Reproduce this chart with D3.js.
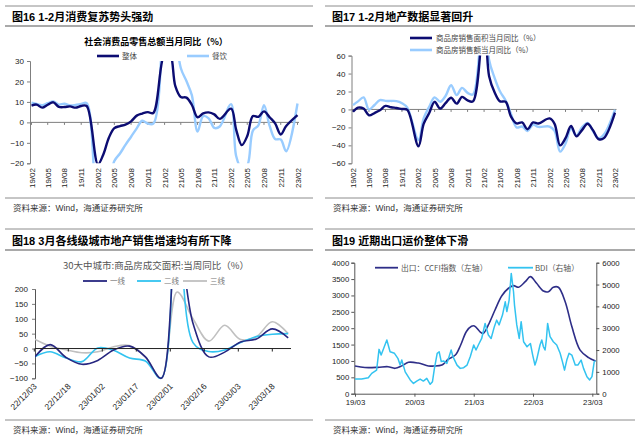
<!DOCTYPE html>
<html><head><meta charset="utf-8">
<script src="https://cdn.jsdelivr.net/npm/d3@7"></script>
<style>body{margin:0;background:#fff;}svg{display:block;}</style>
</head><body>
<svg id="c" width="640" height="438"></svg>
<script>
// ---------- DATA ----------
// Panel 1 & 2: monthly categories (Jan merged into Jan-Feb)
const months = ["19/02","19/03","19/04","19/05","19/06","19/07","19/08","19/09","19/10","19/11","19/12",
"20/02","20/03","20/04","20/05","20/06","20/07","20/08","20/09","20/10","20/11","20/12",
"21/02","21/03","21/04","21/05","21/06","21/07","21/08","21/09","21/10","21/11","21/12",
"22/02","22/03","22/04","22/05","22/06","22/07","22/08","22/09","22/10","22/11","22/12",
"23/02"];
const monthTicks = ["19/02","19/05","19/08","19/11","20/02","20/05","20/08","20/11","21/02","21/05","21/08","21/11","22/02","22/05","22/08","22/11","23/02"];
const retailTotal = [8.2,8.7,7.2,8.6,9.8,7.6,7.5,7.8,7.2,8.0,8.0,
-20.5,-15.8,-7.5,-2.8,-1.8,-1.1,0.5,3.3,4.3,5.0,4.6,
33.8,34.2,17.7,12.4,12.1,8.5,2.5,4.4,4.9,3.9,1.7,
6.7,-3.5,-11.1,-6.7,3.1,2.7,5.4,2.5,-0.5,-5.9,-1.8,
3.5];
const retailFood = [9.7,9.0,8.4,9.4,10.2,8.7,9.1,8.3,8.5,9.0,9.4,
-43.1,-46.8,-31.1,-18.9,-15.2,-11.0,-7.0,-2.9,0.8,-0.6,-0.6,
68.9,91.6,46.4,26.6,20.2,13.2,-4.5,3.1,2.0,-2.7,-2.0,
8.9,-16.4,-22.7,-21.1,-4.0,-1.5,8.4,-1.7,-8.1,-8.4,-14.1,
9.2];
const p1YTicks = [-20,-10,0,10,20,30];
const houseArea = [-2.6,2.0,1.0,-6.5,-4.0,-1.0,3.9,2.5,1.6,0.5,-0.5,
-41,-16,-4,8.5,1,7,13,6.5,14,10,9,
105,37,19,9,8.5,-8,-15.6,-14.5,-22,-14.5,-15.6,
-10,-16,-40,-32,-18.5,-30,-23,-16,-23,-33,-32,
-3.6];
const houseAmount = [4.8,9,13.4,0,5,10.4,9.5,9.5,9.3,7,2,
-34,-10,3,13.4,8.5,15,27,16,24,18.5,16.7,
133,55,35,20,10,-5,-20,-19,-24,-17,-19.4,
-19,-24,-47,-38,-21,-29,-20,-15,-24,-32,-28,
-0.1];
const p2YTicks = [-60,-40,-20,0,20,40,60];

// Panel 3: weekly
const weeks = ["22/12/03","22/12/10","22/12/17","22/12/24","22/12/31","23/01/07","23/01/14","23/01/21","23/01/28","23/02/04","23/02/11","23/02/18","23/02/25","23/03/04","23/03/11","23/03/18","23/03/25"];
const weekTicks = ["22/12/03","22/12/18","23/01/02","23/01/17","23/02/01","23/02/16","23/03/03","23/03/18"];
const tier1 = [-30,13,-30,-53,-40,-5,8,-28,-100,400,85,-28,-12,22,32,66,36];
const tier2 = [-28,-11,-32,-44,2,-6,-32,-42,-100,800,20,-10,-5,20,40,48,50];
const tier3 = [32,8,-4,-14,-11,6,10,-28,-100,190,100,25,78,30,40,90,50];
const p3YTicks = [-100,-50,0,50,100,150,200];

// Panel 4
const ccfiDates = ["2019-03-01","2019-05-01","2019-07-20","2019-09-20","2019-11-03","2019-12-14","2020-01-24","2020-03-25","2020-05-26","2020-06-26","2020-08-17","2020-09-27","2020-11-08","2020-12-10","2021-01-15","2021-02-15","2021-03-05","2021-04-09","2021-04-29","2021-05-30","2021-07-10","2021-08-21","2021-10-01","2021-11-01","2021-12-02","2022-01-12","2022-02-13","2022-03-23","2022-05-04","2022-06-04","2022-07-04","2022-08-04","2022-09-15","2022-10-26","2022-12-16","2023-02-06","2023-03-21"];
const ccfiValues = [845,800,805,825,775,850,960,935,845,845,875,1060,1180,1480,1900,2060,2070,1890,1840,2100,2555,2990,3220,3300,3250,3420,3575,3370,3135,3115,3250,3250,2810,2050,1330,1100,1000];
const bdiDates = ["2019-03-01","2019-04-11","2019-05-22","2019-06-12","2019-07-12","2019-07-27","2019-08-09","2019-09-13","2019-10-03","2019-10-30","2019-11-20","2019-12-04","2019-12-14","2020-01-04","2020-02-04","2020-02-24","2020-03-15","2020-04-05","2020-04-25","2020-05-16","2020-06-06","2020-06-20","2020-07-02","2020-07-19","2020-07-31","2020-08-13","2020-08-27","2020-09-17","2020-10-13","2020-10-24","2020-11-18","2020-12-08","2020-12-29","2021-01-19","2021-02-08","2021-03-01","2021-03-15","2021-04-03","2021-04-19","2021-05-10","2021-05-30","2021-06-16","2021-07-06","2021-07-20","2021-08-04","2021-08-25","2021-09-11","2021-09-21","2021-10-05","2021-10-18","2021-11-01","2021-11-07","2021-11-21","2021-12-06","2021-12-18","2022-01-02","2022-01-23","2022-02-13","2022-02-27","2022-03-13","2022-03-23","2022-04-13","2022-04-24","2022-05-04","2022-05-14","2022-05-22","2022-05-30","2022-06-14","2022-07-04","2022-07-25","2022-08-15","2022-08-29","2022-09-11","2022-09-25","2022-10-09","2022-10-26","2022-11-16","2022-12-02","2022-12-22","2023-01-06","2023-01-27","2023-02-13","2023-02-27","2023-03-13","2023-03-21"];
const bdiValues = [670,670,730,930,1080,2030,1770,2460,1920,1850,1620,1310,1540,1000,630,470,580,670,580,700,430,550,1160,1850,1920,1470,1500,1390,2000,1700,1310,1160,1190,1310,1700,2230,2000,2300,2530,3220,2690,2530,3070,3370,3150,3600,4210,3760,4290,5510,4670,4060,3150,2530,3300,2380,2150,2300,1770,1310,1540,2230,2460,2150,2000,2460,3220,2610,2380,2230,1850,1470,1080,1540,1850,1770,1310,1310,1540,1160,780,630,780,1470,1500];
const yearTicks = ["2019-03-01","2020-03-01","2021-03-01","2022-03-01","2023-03-01"];
const leftTicks4 = [0,500,1000,1500,2000,2500,3000,3500,4000];
const rightTicks4 = [0,1000,2000,3000,4000,5000,6000];

// ---------- DRAW ----------
const svg = d3.select("#c");
const LAT = "'Liberation Sans', Arial, 'Noto Sans CJK SC', sans-serif";
const CJK = "'Noto Sans CJK SC', 'Liberation Sans', sans-serif";
const FRAME = "#8c8c8c", AX = "#7f7f7f";
const NAVY = "#0c0c72", LIGHT = "#99ccff";
const parseM = d3.timeParse("%y/%m"), parseD = d3.timeParse("%y/%m/%d"), parseI = d3.timeParse("%Y-%m-%d");
const fmtY = d3.timeFormat("%y/%m");
const defs = svg.append("defs");

function hline(x1,x2,y,w){svg.append("line").attr("x1",x1).attr("x2",x2).attr("y1",y).attr("y2",y).attr("stroke",FRAME).attr("stroke-width",w);}
function txt(x,y,s,size,o={}){
  return svg.append("text").attr("x",x).attr("y",y).text(s).attr("font-size",size)
    .attr("font-family",o.f||LAT).attr("font-weight",o.w||"normal").attr("fill",o.c||"#000")
    .attr("text-anchor",o.a||"start");
}
function styleAxis(g,size){
  g.select(".domain").attr("stroke",AX);
  g.selectAll(".tick line").attr("stroke",AX);
  g.selectAll(".tick text").attr("font-size",size||8).attr("font-family",LAT).attr("fill","#222");
}
function clip(id,x,y,w,h){defs.append("clipPath").attr("id",id).append("rect").attr("x",x).attr("y",y).attr("width",w).attr("height",h);}

// frames
[[5,313],[325,635]].forEach(([a,b])=>{
  hline(a,b,6,1); hline(a,b,26,1.3); hline(a,b,198,1);
  hline(a,b,229,1); hline(a,b,250,1.3); hline(a,b,420,1);
});
txt(12,20.5,"图16 1-2月消费复苏势头强劲",11,{w:"bold"});
txt(332,20.5,"图17 1-2月地产数据显著回升",11,{w:"bold"});
txt(12,244.5,"图18 3月各线级城市地产销售增速均有所下降",11,{w:"bold"});
txt(332,244.5,"图19 近期出口运价整体下滑",11,{w:"bold"});
["13|211","333|211","13|432.5","333|432.5"].forEach(s=>{const [x,y]=s.split("|").map(Number);
  txt(x,y,"资料来源：Wind，海通证券研究所",8.5,{c:"#333"});});

// monthly panels
function monthly(o){
  const x = d3.scaleTime().domain([parseM("19/02"),parseM("23/02")]).range(o.xr);
  const y = d3.scaleLinear().domain(o.yd).range(o.yr);
  clip(o.id,o.ax,o.yr[1],o.xr[1]-o.ax+3,o.yr[0]-o.yr[1]);
  const g = svg.append("g");
  g.append("line").attr("x1",o.ax).attr("x2",o.xr[1]+1.5).attr("y1",y(0)).attr("y2",y(0)).attr("stroke",AX);
  g.selectAll(null).data(monthTicks).join("line")
    .attr("x1",d=>x(parseM(d))).attr("x2",d=>x(parseM(d))).attr("y1",y(0)).attr("y2",y(0)+2.5).attr("stroke",AX);
  const ya = g.append("g").attr("transform",`translate(${o.ax},0)`)
    .call(d3.axisLeft(y).tickValues(o.yt).tickSize(3).tickPadding(3).tickFormat(d3.format("d")));
  styleAxis(ya,8);
  g.selectAll(null).data(monthTicks).join("text")
    .attr("transform",d=>`translate(${x(parseM(d))+3},168) rotate(-90)`)
    .attr("text-anchor","end").attr("font-size",8).attr("font-family",LAT).attr("fill","#222").text(d=>d);
  o.series.forEach(s=>{
    g.append("path").datum(s.v).attr("clip-path",`url(#${o.id})`)
      .attr("d",d3.line().x((d,i)=>x(parseM(months[i]))).y(d=>y(d)).curve(d3.curveCatmullRom.alpha(0.5)))
      .attr("fill","none").attr("stroke",s.c).attr("stroke-width",2.4).attr("stroke-linejoin","round");
  });
}
monthly({id:"c1",xr:[31.5,297.5],ax:30,yd:[-20,30],yr:[163.3,61],yt:p1YTicks,
  series:[{v:retailFood,c:LIGHT},{v:retailTotal,c:NAVY}]});
monthly({id:"c2",xr:[353,615],ax:351.5,yd:[-60,60],yr:[163.3,55.6],yt:p2YTicks,
  series:[{v:houseAmount,c:LIGHT},{v:houseArea,c:NAVY}]});

// panel 1 titles/legend
txt(156,45,"社会消费品零售总额当月同比（%）",9,{f:CJK,w:"bold",a:"middle"});
svg.append("line").attr("x1",97).attr("x2",119).attr("y1",56).attr("y2",56).attr("stroke",NAVY).attr("stroke-width",2.6);
txt(122,59,"整体",7.5,{f:CJK,c:"#444"});
svg.append("line").attr("x1",187).attr("x2",209).attr("y1",56).attr("y2",56).attr("stroke",LIGHT).attr("stroke-width",2.6);
txt(212,59,"餐饮",7.5,{f:CJK,c:"#444"});
// panel 2 legend
svg.append("line").attr("x1",410).attr("x2",432).attr("y1",38).attr("y2",38).attr("stroke",NAVY).attr("stroke-width",2.6);
txt(436,41,"商品房销售面积当月同比（%）",7.5,{f:CJK,c:"#444"});
svg.append("line").attr("x1",410).attr("x2",432).attr("y1",50).attr("y2",50).attr("stroke",LIGHT).attr("stroke-width",2.6);
txt(436,53,"商品房销售额当月同比（%）",7.5,{f:CJK,c:"#444"});

// panel 3
{
  const x = d3.scaleTime().domain([parseD("22/12/03"),parseD("23/03/18")]).range([34.3,272.3]);
  const y = d3.scaleLinear().domain([-100,200]).range([378.3,289]);
  clip("c3",35,289,258,90.5);
  const g = svg.append("g");
  const ya = g.append("g").attr("transform","translate(35,0)")
    .call(d3.axisLeft(y).tickValues(p3YTicks).tickSize(3).tickPadding(4));
  styleAxis(ya,8);
  ya.select(".domain").attr("stroke","#555");
  const cols = [["#c0c0c0",tier3],["#33c3f0",tier2],["#262680",tier1]];
  cols.forEach(([c,v])=>{
    g.append("path").datum(v).attr("clip-path","url(#c3)")
      .attr("d",d3.line().x((d,i)=>x(parseD(weeks[i]))).y(d=>y(d)).curve(d3.curveCatmullRom.alpha(0.5)))
      .attr("fill","none").attr("stroke",c).attr("stroke-width",1.6);
  });
  g.append("line").attr("x1",35).attr("x2",291).attr("y1",y(0)).attr("y2",y(0)).attr("stroke","#222");
  g.selectAll(null).data(weekTicks).join("line")
    .attr("x1",d=>x(parseD(d))).attr("x2",d=>x(parseD(d))).attr("y1",y(0)).attr("y2",y(0)+3).attr("stroke","#222");
  g.selectAll(null).data(weekTicks).join("text")
    .attr("transform",d=>`translate(${x(parseD(d))+3},387) rotate(-45)`)
    .attr("text-anchor","end").attr("font-size",8.5).attr("font-family",LAT).attr("fill","#222").text(d=>d);
  txt(156,269,"30大中城市:商品房成交面积:当周同比（%）",9.5,{f:CJK,a:"middle",c:"#555"});
  [["#262680",83,"一线"],["#33c3f0",137,"二线"],["#c0c0c0",183,"三线"]].forEach(([c,x0,s])=>{
    svg.append("line").attr("x1",x0).attr("x2",x0+24).attr("y1",281).attr("y2",281).attr("stroke",c).attr("stroke-width",1.8);
    txt(x0+27,284,s,7.5,{f:CJK,c:"#777"});
  });
}

// panel 4
{
  const x = d3.scaleTime().domain([parseI("2019-03-01"),parseI("2023-03-01")]).range([355,592.3]);
  const yl = d3.scaleLinear().domain([0,4000]).range([393.7,262.7]);
  const yr = d3.scaleLinear().domain([0,6000]).range([393.7,262.7]);
  const g = svg.append("g");
  const al = g.append("g").attr("transform","translate(354.3,0)").call(d3.axisLeft(yl).tickValues(leftTicks4).tickSize(3).tickPadding(2).tickFormat(d3.format("d")));
  styleAxis(al,7.8);
  const ar = g.append("g").attr("transform","translate(596.3,0)").call(d3.axisRight(yr).tickValues(rightTicks4).tickSize(3).tickPadding(3).tickFormat(d3.format("d")));
  styleAxis(ar,7.8);
  const ab = g.append("g").attr("transform","translate(0,393.7)")
    .call(d3.axisBottom(x).tickValues(yearTicks.map(parseI)).tickSize(3).tickPadding(3).tickFormat(fmtY));
  styleAxis(ab,7.8);
  ab.select(".domain").attr("d","M354.3,0.5H596.3");
  [al,ar,ab].forEach(a=>{a.select(".domain").attr("stroke","#555");a.selectAll(".tick line").attr("stroke","#555");});
  g.append("path").datum(ccfiValues)
    .attr("d",d3.line().x((d,i)=>x(parseI(ccfiDates[i]))).y(d=>yl(d)).curve(d3.curveCatmullRom.alpha(0.5)))
    .attr("fill","none").attr("stroke","#2e2e88").attr("stroke-width",1.6);
  g.append("path").datum(bdiValues)
    .attr("d",d3.line().x((d,i)=>x(parseI(bdiDates[i]))).y(d=>yr(d)))
    .attr("fill","none").attr("stroke","#33c3f0").attr("stroke-width",1.5).attr("stroke-linejoin","round");
  svg.append("line").attr("x1",375).attr("x2",398).attr("y1",267.7).attr("y2",267.7).attr("stroke","#2e2e88").attr("stroke-width",1.8);
  txt(401,270.5,"出口：CCFI指数（左轴）",7.8,{f:CJK,c:"#555"});
  svg.append("line").attr("x1",508).attr("x2",533).attr("y1",267.7).attr("y2",267.7).attr("stroke","#33c3f0").attr("stroke-width",1.8);
  txt(535,270.5,"BDI（右轴）",7.8,{f:CJK,c:"#555"});
}
</script>
</body></html>
